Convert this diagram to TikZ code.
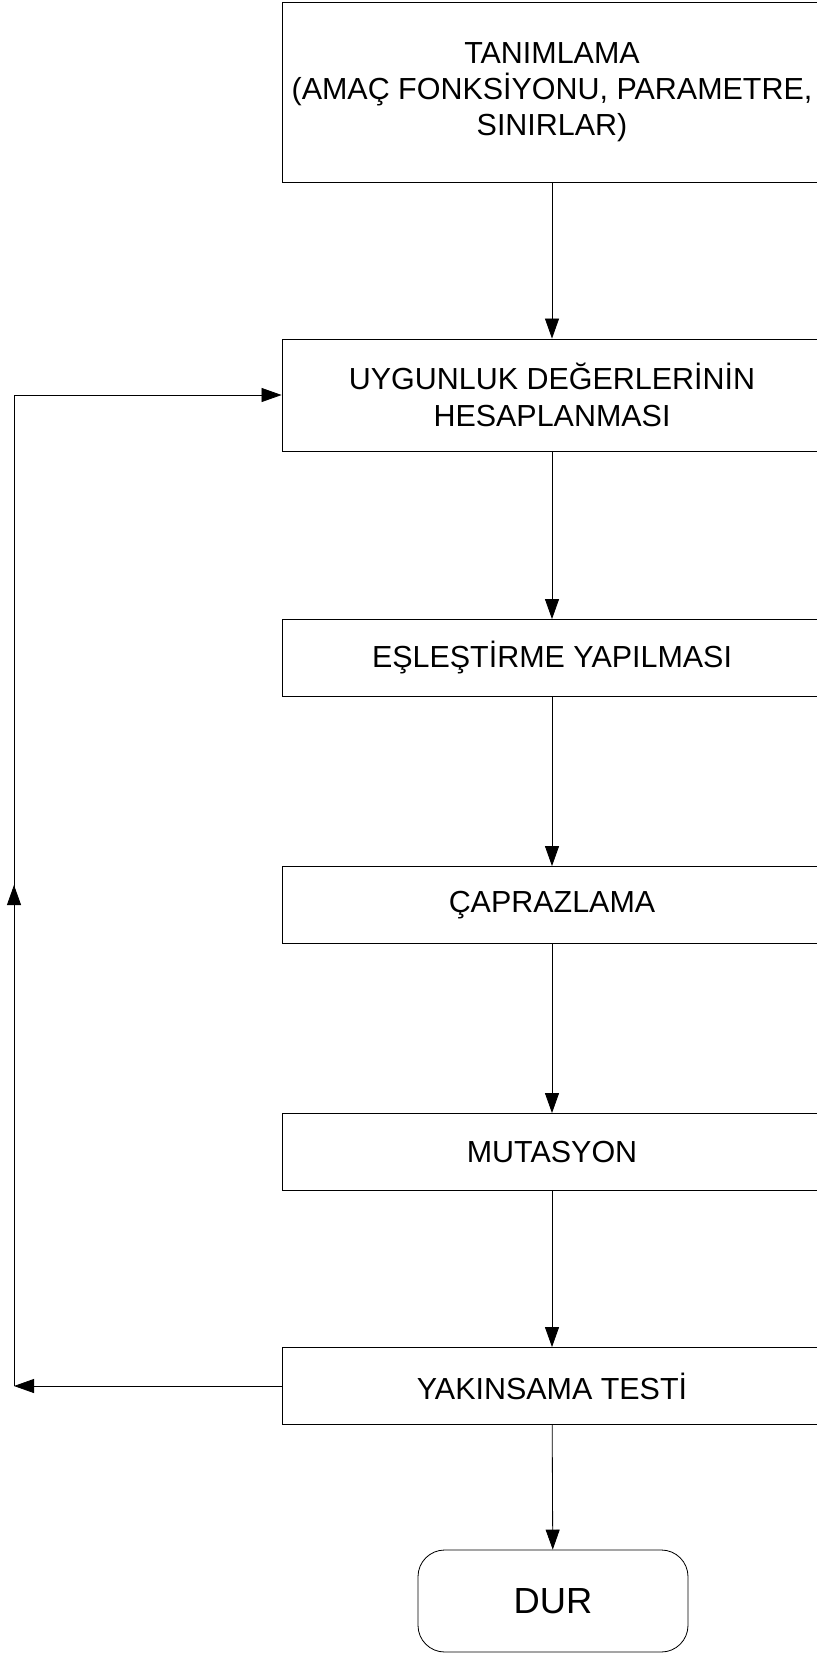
\documentclass[tikz,border=0pt]{standalone}
\usepackage{fontspec}
\setmainfont{Liberation Sans}
\usetikzlibrary{arrows.meta}

\begin{document}
\begin{tikzpicture}[x=0.03cm,y=-0.03cm]
        \tikzset{stepbox/.style={draw,rectangle,line width=0.7pt,minimum width=16.2cm,
                align=center,font=\fontsize{26}{31}\selectfont},
            stopbox/.style={draw,rectangle,rounded corners=0.8cm,line width=0.7pt,
                minimum width=8.1cm,minimum height=3.06cm,font=\fontsize{31}{36}\selectfont},
            arr/.style={line width=0.7pt,-{Triangle[length=0.6cm,width=0.42cm]}}}
        \clip (0,0) rectangle (817,1655);
        \node[stepbox,minimum height=5.4cm] (tanim) at (552,92)
            {TANIMLAMA\\(AMAÇ FONKSİYONU, PARAMETRE,\\SINIRLAR)};
        \node[stepbox,minimum height=3.36cm] (uygun) at (552,395)
            {UYGUNLUK DEĞERLERİNİN\\HESAPLANMASI};
        \node[stepbox,minimum height=2.31cm] (esles) at (552,658) {EŞLEŞTİRME YAPILMASI};
        \node[stepbox,minimum height=2.31cm] (capraz) at (552,905) {ÇAPRAZLAMA};
        \node[stepbox,minimum height=2.31cm] (mutas) at (552,1152) {MUTASYON};
        \node[stepbox,minimum height=2.31cm] (yakin) at (552,1386) {YAKINSAMA TESTİ};
        \node[stopbox] (dur) at (553,1601) {DUR};
        \coordinate (geri) at (14,1386);
        \coordinate (yukari) at (14,885);
        % ana akis
        \draw[arr] (tanim) -- (uygun);
        \draw[arr] (uygun) -- (esles);
        \draw[arr] (esles) -- (capraz);
        \draw[arr] (capraz) -- (mutas);
        \draw[arr] (mutas) -- (yakin);
        \draw[arr] (yakin) -- (dur);
        % geri donus
        \draw[arr] (yakin.west) -- (geri);
        \draw[arr] (geri) -- (yukari);
        \draw[arr] (geri) |- (uygun.west);
    \end{tikzpicture}
\end{document}
